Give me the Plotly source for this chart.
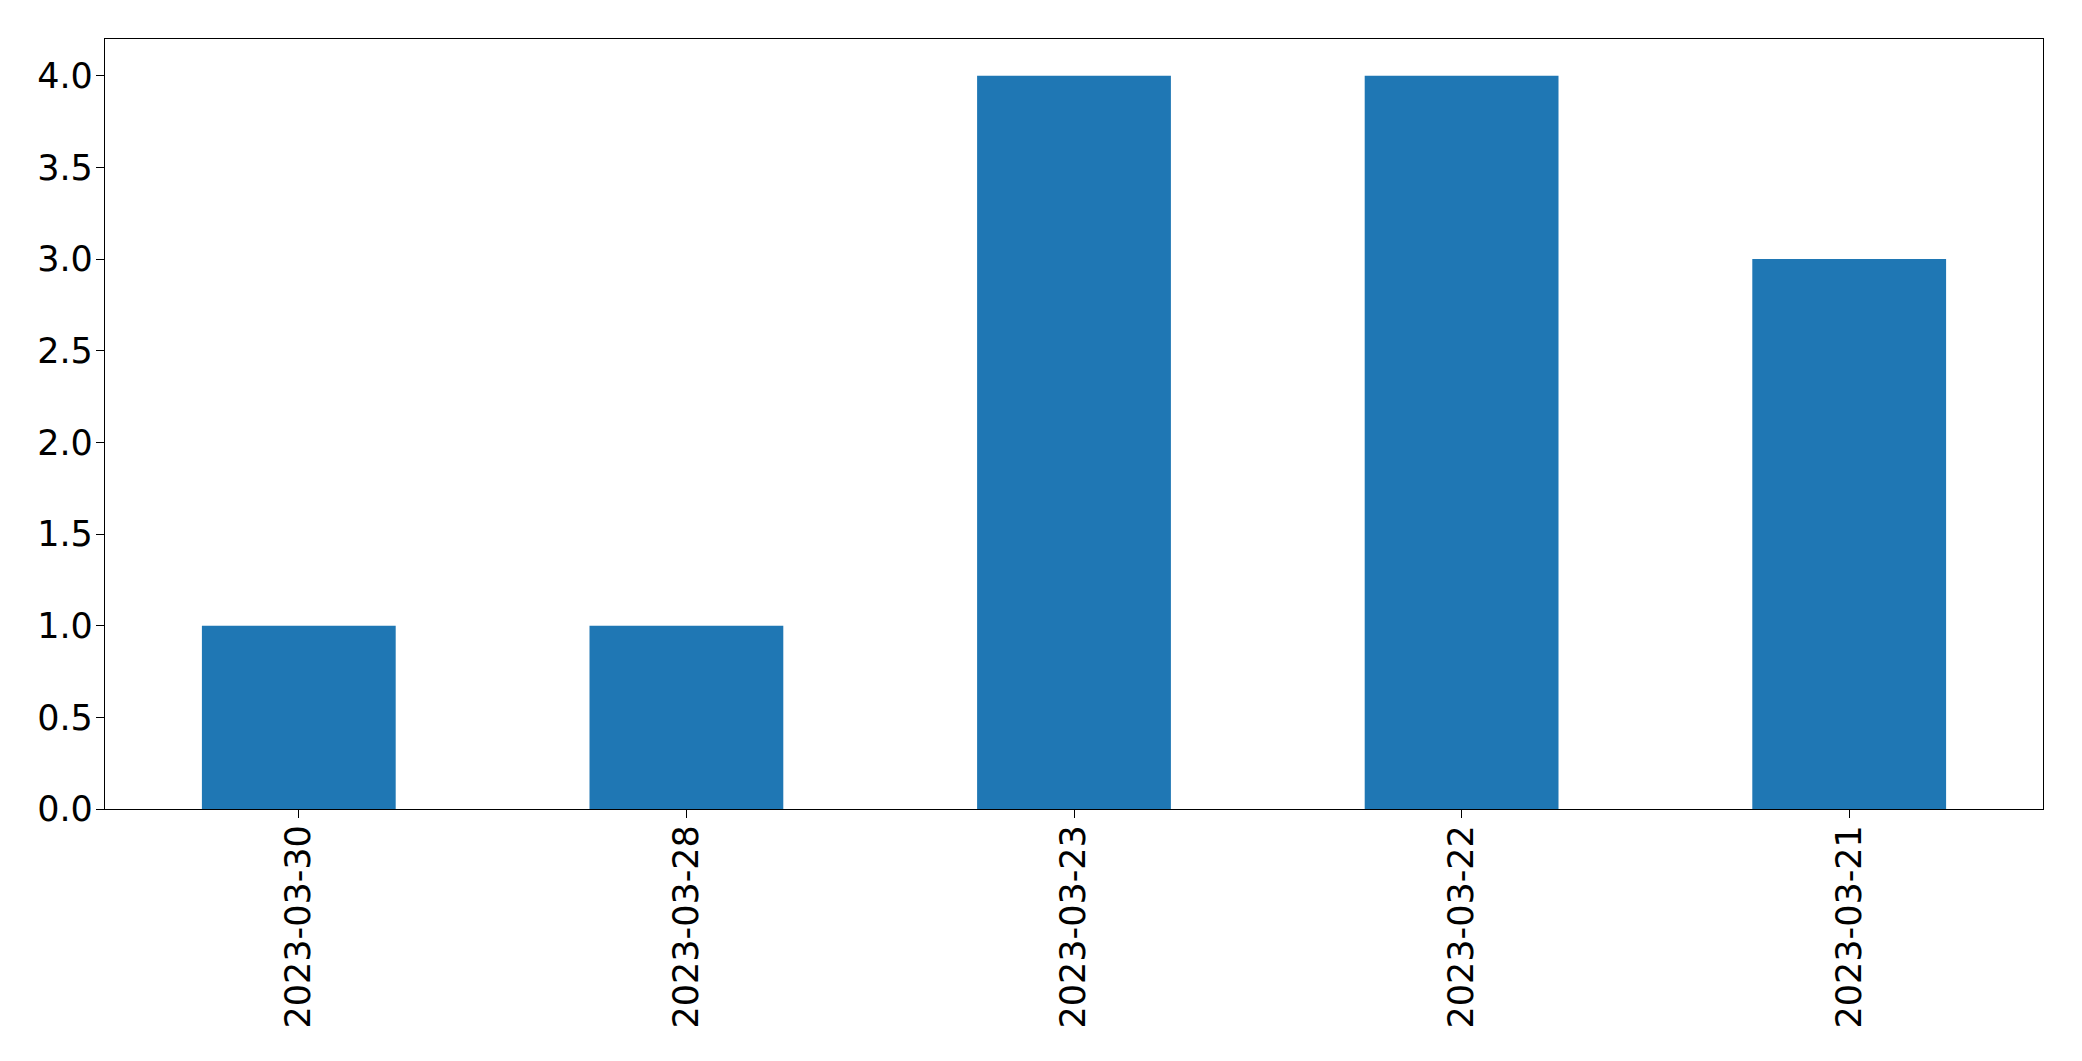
import plotly.graph_objects as go

categories = ["2023-03-30", "2023-03-28", "2023-03-23", "2023-03-22", "2023-03-21"]
values = [1, 1, 4, 4, 3]
y_ticks = [0.0, 0.5, 1.0, 1.5, 2.0, 2.5, 3.0, 3.5, 4.0]

fig = go.Figure(
    go.Bar(x=categories, y=values, marker=dict(color="#1f77b4", line=dict(width=0)), width=0.5)
)

# page body has an 8px default margin; compensate so the plot area lands where the reference has it
fig.update_layout(
    width=2082, height=1061,
    margin=dict(l=97, r=47, t=31, b=260, autoexpand=False),
    paper_bgcolor="white", plot_bgcolor="white",
    font=dict(family="DejaVu Sans", size=35, color="black"),
    showlegend=False,
    bargap=0.5,
)
fig.update_xaxes(
    type="category", range=[-0.5, 4.5], tickangle=-90, automargin=False,
    showline=True, linecolor="black", linewidth=1.3, mirror=True,
    ticks="outside", ticklen=8, tickwidth=1.3, tickcolor="black",
    ticklabelstandoff=-7,
    showgrid=False, zeroline=False,
)
fig.update_yaxes(
    range=[0, 4.2], tickvals=y_ticks, ticktext=[f"{v:.1f}" for v in y_ticks], automargin=False,
    showline=True, linecolor="black", linewidth=1.3, mirror=True,
    ticks="outside", ticklen=8, tickwidth=1.3, tickcolor="black",
    ticklabelstandoff=-4,
    showgrid=False, zeroline=False,
)

fig.write_html("out.html")
